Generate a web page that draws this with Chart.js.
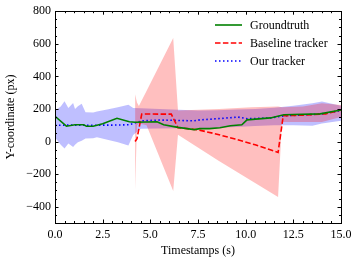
<!DOCTYPE html>
<html>
<head>
<meta charset="utf-8">
<script src="https://cdn.jsdelivr.net/npm/chart.js@4/dist/chart.umd.min.js"></script>
<style>
  html, body { margin: 0; padding: 0; background: #fff; }
</style>
</head>
<body>
<canvas id="chart" width="358" height="263"></canvas>
<script>
// ground truth
const gtTime = [0, 0.6, 1.05, 1.5, 1.65, 2.0, 2.5, 3.25, 3.9, 4.2, 5.35, 5.7, 6.45, 7.3, 7.6, 8.1, 8.65, 9.2, 9.8, 10.07, 11.3, 12.0, 13.9, 15.0];
const gtVal = [155, 94, 103, 103, 94, 94, 109, 143, 121, 118, 121, 103, 87, 73, 79, 79, 85, 97, 103, 133, 145, 164, 170, 194];

// baseline tracker
const baseTime = [4.2, 4.3, 4.55, 6.1, 6.45, 7.5, 8.5, 9.45, 10.5, 11.7, 11.97, 13.0, 14.2, 15.0];
const baseVal = [0, 18, 169, 168, 85, 72, 45, 15, -20, -67, 158, 162, 170, 194];
const baseBandTime = [4.2, 4.3, 4.4, 4.8, 6.2, 6.45, 8.6, 10.3, 11.7, 11.9, 13.0, 14.0, 15.0];
const baseUpper = [290, 240, 218, 310, 636, 190, 200, 210, 215, 210, 215, 235, 225];
const baseLower = [-297, 100, 110, 100, -303, 42, -120, -240, -340, 120, 120, 120, 150];

// our tracker
const ourTime = [0, 1, 2, 3, 3.9, 4.55, 5.5, 6.3, 7.3, 7.6, 8.5, 9.6, 10.1, 11.3, 12.0, 13.0, 14.0, 15.0];
const ourVal = [100, 101, 100, 101, 103, 127, 132, 130, 127, 133, 140, 150, 140, 145, 158, 163, 170, 190];
const ourBandTime = [0, 0.3, 0.5, 0.7, 0.95, 1.05, 1.2, 1.4, 1.6, 2.0, 2.2, 2.8, 3.3, 3.85, 4.1, 4.5, 5.5, 6.5, 7.5, 8.5, 9.5, 10.5, 11.5, 12.5, 13.5, 14.0, 15.0];
const ourUpper = [190, 215, 248, 206, 236, 200, 216, 232, 180, 178, 185, 198, 210, 226, 206, 205, 200, 195, 190, 192, 196, 200, 208, 220, 235, 245, 220];
const ourLower = [25, -20, -43, -12, -34, -20, -4, 5, 18, 20, 26, 10, -5, -24, 40, 78, 80, 82, 82, 85, 90, 95, 100, 100, 97, 110, 127];

const xTicks = [0, 2.5, 5, 7.5, 10, 12.5, 15];
const yTicks = [-400, -200, 0, 200, 400, 600, 800];

const FONT = 'Liberation Serif';
const FSIZE = 12;

function pts(t, v) {
    return t.map((x, i) => ({ x: x, y: v[i] }));
}

const frame = {
    id: 'frame',
    afterDraw(chart) {
        const ctx = chart.ctx;
        const a = chart.chartArea;
        const x = chart.scales.x, y = chart.scales.y;
        ctx.save();
        ctx.strokeStyle = '#000';
        ctx.lineWidth = 1;
        ctx.strokeRect(Math.round(a.left) + 0.5, Math.round(a.top) + 0.5,
            Math.round(a.right - a.left), Math.round(a.bottom - a.top));

        ctx.beginPath();
        for (let v = 0; v <= 15.001; v += 0.5) {
            const px = Math.round(x.getPixelForValue(v)) + 0.5;
            const len = (Math.abs(v / 2.5 - Math.round(v / 2.5)) < 1e-6) ? 3.5 : 2;
            ctx.moveTo(px, a.bottom); ctx.lineTo(px, a.bottom - len);
            ctx.moveTo(px, a.top); ctx.lineTo(px, a.top + len);
        }
        for (let v = -500; v <= 800; v += 50) {
            const py = Math.round(y.getPixelForValue(v)) + 0.5;
            const len = (v % 200 === 0) ? 3.5 : 2;
            ctx.moveTo(a.left, py); ctx.lineTo(a.left + len, py);
            ctx.moveTo(a.right, py); ctx.lineTo(a.right - len, py);
        }
        ctx.stroke();

        // legend
        const items = chart.data.datasets.slice(0, 3);
        ctx.font = FSIZE + 'px "' + FONT + '"';
        ctx.textBaseline = 'middle';
        ctx.fillStyle = '#000';
        items.forEach((ds, i) => {
            const ly = 25 + i * 18;
            ctx.beginPath();
            ctx.strokeStyle = ds.borderColor;
            ctx.lineWidth = ds.borderWidth;
            ctx.setLineDash(ds.borderDash || []);
            ctx.moveTo(215, ly); ctx.lineTo(242, ly);
            ctx.stroke();
            ctx.setLineDash([]);
            ctx.fillText(ds.label, 250, ly + 0.5);
        });
        ctx.restore();
    }
};

new Chart(document.getElementById('chart'), {
    type: 'line',
    data: {
        datasets: [
            {
                label: 'Groundtruth',
                data: pts(gtTime, gtVal),
                borderColor: '#008000',
                borderWidth: 1.6,
                pointRadius: 0,
                fill: false
            },
            {
                label: 'Baseline tracker',
                data: pts(baseTime, baseVal),
                borderColor: '#ff0000',
                borderWidth: 1.6,
                borderDash: [5.5, 2.4],
                pointRadius: 0,
                fill: false
            },
            {
                label: 'Our tracker',
                data: pts(ourTime, ourVal),
                borderColor: '#0000ff',
                borderWidth: 1.6,
                borderDash: [1.5, 2.5],
                pointRadius: 0,
                fill: false
            },
            {
                label: 'baseline upper',
                data: pts(baseBandTime, baseUpper),
                borderWidth: 0,
                borderColor: 'rgba(0,0,0,0)',
                backgroundColor: 'rgba(255,0,0,0.25)',
                pointRadius: 0,
                fill: '+1'
            },
            {
                label: 'baseline lower',
                data: pts(baseBandTime, baseLower),
                borderWidth: 0,
                borderColor: 'rgba(0,0,0,0)',
                pointRadius: 0,
                fill: false
            },
            {
                label: 'our upper',
                data: pts(ourBandTime, ourUpper),
                borderWidth: 0,
                borderColor: 'rgba(0,0,0,0)',
                backgroundColor: 'rgba(0,0,255,0.25)',
                pointRadius: 0,
                fill: '+1'
            },
            {
                label: 'our lower',
                data: pts(ourBandTime, ourLower),
                borderWidth: 0,
                borderColor: 'rgba(0,0,0,0)',
                pointRadius: 0,
                fill: false
            }
        ]
    },
    options: {
        responsive: false,
        animation: false,
        layout: { padding: { top: 9, right: 17, left: 0, bottom: 0 } },
        plugins: {
            legend: { display: false },
            tooltip: { enabled: false }
        },
        scales: {
            x: {
                type: 'linear',
                min: 0,
                max: 15,
                afterBuildTicks: (s) => { s.ticks = xTicks.map(v => ({ value: v })); },
                afterFit: (s) => { s.height = 40; },
                grid: { display: false, drawTicks: false },
                border: { display: false },
                ticks: {
                    padding: 5,
                    color: '#000',
                    font: { family: FONT, size: FSIZE },
                    maxRotation: 0,
                    callback: (v) => Number(v).toFixed(1)
                },
                title: {
                    display: true,
                    text: 'Timestamps (s)',
                    color: '#000',
                    font: { family: FONT, size: FSIZE },
                    padding: { top: 0, bottom: 5 }
                }
            },
            y: {
                type: 'linear',
                min: -500,
                max: 800,
                afterBuildTicks: (s) => { s.ticks = yTicks.map(v => ({ value: v })); },
                afterFit: (s) => { s.width = 55; },
                grid: { display: false, drawTicks: false },
                border: { display: false },
                ticks: {
                    padding: 4,
                    color: '#000',
                    font: { family: FONT, size: FSIZE },
                    callback: (v) => String(v).replace('-', '\u2212')
                },
                title: {
                    display: true,
                    text: 'Y-coordinate (px)',
                    color: '#000',
                    font: { family: FONT, size: FSIZE },
                    padding: { top: 4, bottom: 0 }
                }
            }
        }
    },
    plugins: [frame]
});
</script>
</body>
</html>
